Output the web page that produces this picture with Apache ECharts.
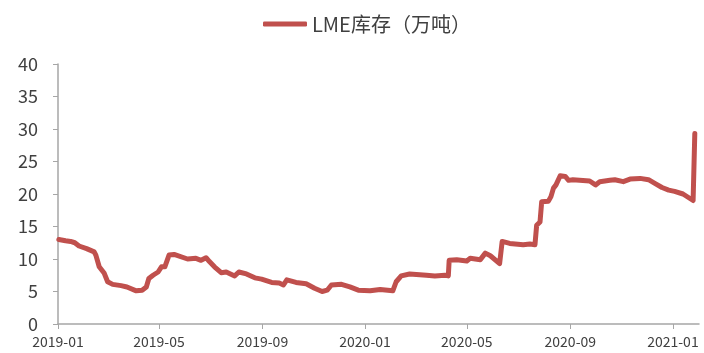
<!DOCTYPE html>
<html><head><meta charset="utf-8">
<script src="https://cdn.jsdelivr.net/npm/echarts@6/dist/echarts.min.js"></script>
<style>html,body{margin:0;padding:0;background:#fff}#c{width:704px;height:353px}</style>
</head><body><div id="c"></div>
<script>
var seriesName = 'LME库存（万吨）';
var dates = ['2019-01-02','2019-01-10','2019-01-16','2019-01-21','2019-01-26','2019-02-04','2019-02-13','2019-02-15','2019-02-19','2019-02-25','2019-03-01','2019-03-07','2019-03-17','2019-03-24','2019-04-04','2019-04-11','2019-04-16','2019-04-19','2019-04-24','2019-04-30','2019-05-04','2019-05-08','2019-05-13','2019-05-19','2019-06-04','2019-06-14','2019-06-20','2019-06-26','2019-06-30','2019-07-06','2019-07-14','2019-07-20','2019-07-30','2019-08-04','2019-08-13','2019-08-23','2019-08-31','2019-09-12','2019-09-21','2019-09-26','2019-09-30','2019-10-11','2019-10-23','2019-11-02','2019-11-11','2019-11-17','2019-11-22','2019-12-04','2019-12-14','2019-12-24','2020-01-07','2020-01-19','2020-02-03','2020-02-07','2020-02-13','2020-02-23','2020-03-14','2020-03-24','2020-04-05','2020-04-09','2020-04-10','2020-04-19','2020-05-01','2020-05-05','2020-05-17','2020-05-23','2020-05-29','2020-06-09','2020-06-12','2020-06-21','2020-07-07','2020-07-15','2020-07-21','2020-07-23','2020-07-27','2020-07-29','2020-08-06','2020-08-09','2020-08-12','2020-08-15','2020-08-20','2020-08-26','2020-08-30','2020-09-04','2020-09-24','2020-10-01','2020-10-06','2020-10-18','2020-10-24','2020-11-03','2020-11-11','2020-11-23','2020-12-03','2020-12-11','2020-12-19','2020-12-27','2021-01-03','2021-01-13','2021-01-19','2021-01-25','2021-01-27'];
var values = [13.0,12.8,12.7,12.5,12.0,11.6,11.1,10.6,8.8,7.8,6.5,6.1,5.9,5.7,5.1,5.2,5.7,7.0,7.5,8.0,8.8,8.8,10.6,10.7,10.0,10.1,9.8,10.2,9.6,8.8,7.9,8.0,7.4,8.0,7.7,7.1,6.9,6.4,6.3,6.0,6.8,6.4,6.2,5.5,5.0,5.2,6.0,6.1,5.7,5.2,5.1,5.3,5.1,6.5,7.4,7.7,7.5,7.4,7.5,7.4,9.8,9.9,9.7,10.1,9.9,10.9,10.5,9.3,12.7,12.4,12.2,12.3,12.2,15.2,15.7,18.8,18.9,19.6,20.9,21.4,22.8,22.7,22.1,22.2,22.0,21.4,21.9,22.1,22.2,21.9,22.3,22.4,22.2,21.6,21.0,20.6,20.4,20.0,19.5,19.0,29.3];
var xTickLabels = ['2019-01','2019-05','2019-09','2020-01','2020-05','2020-09','2021-01'];
var yMin = 0, yMax = 40, yStep = 5;
var xStart = '2019-01-01', xEnd = '2021-02-01';

function dayNum(s){var p=s.split('-');return Math.round((Date.UTC(+p[0],+p[1]-1,p[2]?+p[2]:1)-Date.UTC(2019,0,1))/86400000);}
var tickDays = xTickLabels.map(dayNum);
var data = dates.map(function(d,i){return [dayNum(d), values[i]];});
var font = '"Noto Sans CJK SC","Noto Sans",sans-serif';

var chart = echarts.init(document.getElementById('c'));
chart.setOption({
  animation:false,
  legend:{top:9,left:258,itemWidth:44,itemHeight:5,icon:'roundRect',itemGap:4,
    textStyle:{fontFamily:font,fontSize:20,color:'#404040'},data:[seriesName]},
  grid:{left:58,right:5,top:64,bottom:29,containLabel:false},
  xAxis:{type:'value',min:dayNum(xStart),max:dayNum(xEnd),splitLine:{show:false},
    axisLine:{lineStyle:{color:'#A6A6A6',width:1.5}},
    axisTick:{show:true,length:5,lineStyle:{color:'#A6A6A6'},customValues:tickDays},
    axisLabel:{customValues:tickDays,margin:11,fontFamily:font,fontSize:14,color:'#404040',
      formatter:function(v){var i=tickDays.indexOf(Math.round(v));return i>=0?xTickLabels[i]:'';}}},
  yAxis:{type:'value',min:yMin,max:yMax,interval:yStep,splitLine:{show:false},
    axisLine:{show:true,lineStyle:{color:'#A6A6A6',width:1.5}},
    axisTick:{show:true,length:5,lineStyle:{color:'#A6A6A6'}},
    axisLabel:{margin:20,fontFamily:font,fontSize:18,color:'#404040'}},
  series:[{name:seriesName,type:'line',data:data,showSymbol:false,symbol:'none',
    lineStyle:{color:'#C0504D',width:5,cap:'round',join:'round'},itemStyle:{color:'#C0504D'}}]
});
</script></body></html>
